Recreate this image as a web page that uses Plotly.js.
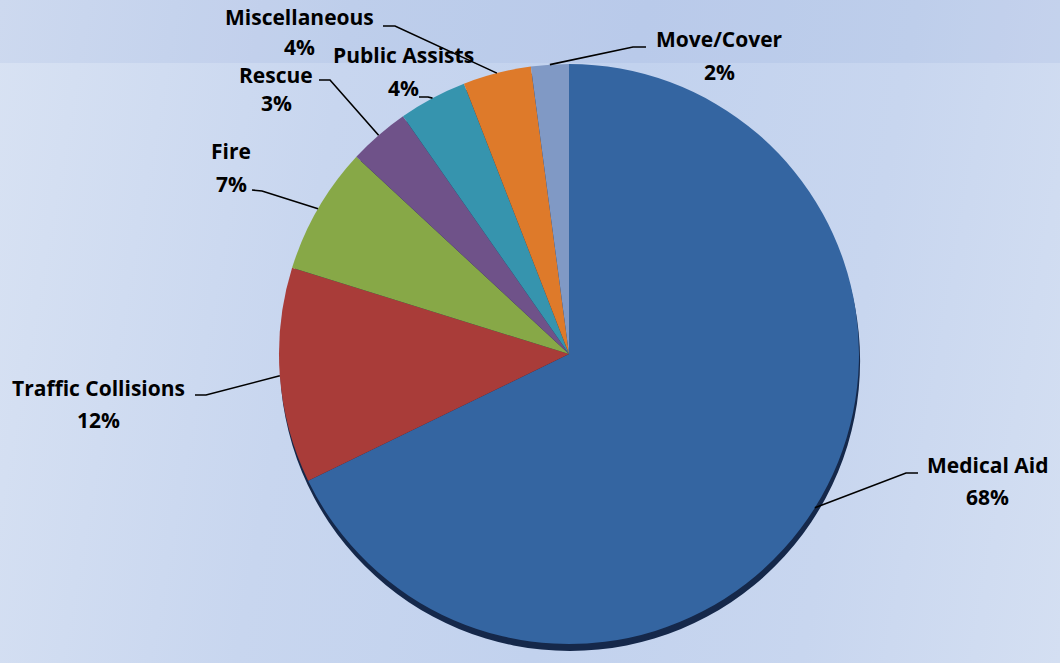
<!DOCTYPE html>
<html>
<head>
<meta charset="utf-8">
<script src="https://cdn.plot.ly/plotly-3.0.1.min.js"></script>
<style>
  html, body { margin: 0; padding: 0; }
  body {
    width: 1060px; height: 663px; overflow: hidden;
    background: linear-gradient(100deg, #d8e2f3 0%, #c8d6ef 30%, #c2d2ee 55%, #c8d6ef 78%, #d4dff2 100%);
  }
  #chart { width: 1060px; height: 663px; }
</style>
</head>
<body>
<div id="chart"></div>
<script>
// ---- data ----
const categories = ['Medical Aid', 'Traffic Collisions', 'Fire', 'Rescue', 'Public Assists', 'Miscellaneous', 'Move/Cover'];
const values = [67.8, 12.0, 7.1, 3.4, 3.8, 3.8, 2.1];
const sliceColors = ['#3465a1', '#a93c39', '#87a847', '#6f5289', '#3694ae', '#de7a2a', '#8099c5'];

// ---- layout helpers (pixel positions of labels & leader elbows) ----
const W = 1060, H = 663;
const CX = 569, CY = 354, R = 290;
const labelLayout = [
  { nx: 987, ny: 465, py: 497, tick: [918, 473, 906, 473] },
  { nx: 99,  ny: 388, py: 420, tick: [195, 395, 206, 395] },
  { nx: 231, ny: 151, py: 184, tick: [252, 190, 262, 191] },
  { nx: 276, ny: 75,  py: 103, tick: [319, 80, 330, 80] },
  { nx: 403, ny: 55,  py: 88,  tick: [419, 97, 428, 97] },
  { nx: 299, ny: 17,  py: 47,  tick: [383, 26, 395, 26] },
  { nx: 719, ny: 39,  py: 72,  tick: [646, 47, 633, 47] }
];
const fx = x => x / W;
const fy = y => 1 - y / H;

const total = values.reduce((a, b) => a + b, 0);
const annotations = [];
const shapes = [
  { type: 'rect', xref: 'paper', yref: 'paper', x0: 0, x1: 1, y0: fy(63), y1: 1,
    fillcolor: 'rgba(110,140,205,0.10)', line: { width: 0 }, layer: 'below' }
];
const font = { family: '"Open Sans", Lato, sans-serif', size: 21, color: '#000000', weight: 700 };

let cum = 0;
categories.forEach((name, i) => {
  const mid = (cum + values[i] / 2) / total * 2 * Math.PI; // clockwise from top
  cum += values[i];
  const ex = CX + R * Math.sin(mid);
  const ey = CY - R * Math.cos(mid);
  const L = labelLayout[i];
  annotations.push({ x: fx(L.nx), y: fy(L.ny), xref: 'paper', yref: 'paper', text: '<b>' + name + '</b>',
    showarrow: false, xanchor: 'center', yanchor: 'middle', font: font, borderpad: 0 });
  annotations.push({ x: fx(L.nx), y: fy(L.py), xref: 'paper', yref: 'paper',
    text: '<b>' + Math.round(values[i] / total * 100) + '%</b>',
    showarrow: false, xanchor: 'center', yanchor: 'middle', font: font, borderpad: 0 });
  const t = L.tick;
  shapes.push({ type: 'path', xref: 'paper', yref: 'paper', layer: 'above',
    path: `M ${fx(t[0])} ${fy(t[1])} L ${fx(t[2])} ${fy(t[3])} L ${fx(ex)} ${fy(ey)}`,
    line: { color: '#000000', width: 1.6 } });
});

const shadow = {
  type: 'pie', values: [1], labels: ['shadow'], sort: false, textinfo: 'none', hoverinfo: 'skip',
  marker: { colors: ['#15284a'], line: { width: 0 } }, showlegend: false,
  domain: { x: [fx(CX - R + 1), fx(CX + R + 1)], y: [fy(CY + R + 7), fy(CY - R + 7)] }
};
const pie = {
  type: 'pie', labels: categories, values: values, sort: false, direction: 'clockwise', rotation: 0,
  textinfo: 'none', hoverinfo: 'label+percent', showlegend: false,
  marker: { colors: sliceColors, line: { width: 0 } },
  domain: { x: [fx(CX - R), fx(CX + R)], y: [fy(CY + R), fy(CY - R)] }
};

Plotly.newPlot('chart', [shadow, pie], {
  width: W, height: H,
  margin: { l: 0, r: 0, t: 0, b: 0 },
  paper_bgcolor: 'rgba(0,0,0,0)', plot_bgcolor: 'rgba(0,0,0,0)',
  showlegend: false,
  annotations: annotations,
  shapes: shapes
}, { displayModeBar: false, staticPlot: true });
</script>
</body>
</html>
